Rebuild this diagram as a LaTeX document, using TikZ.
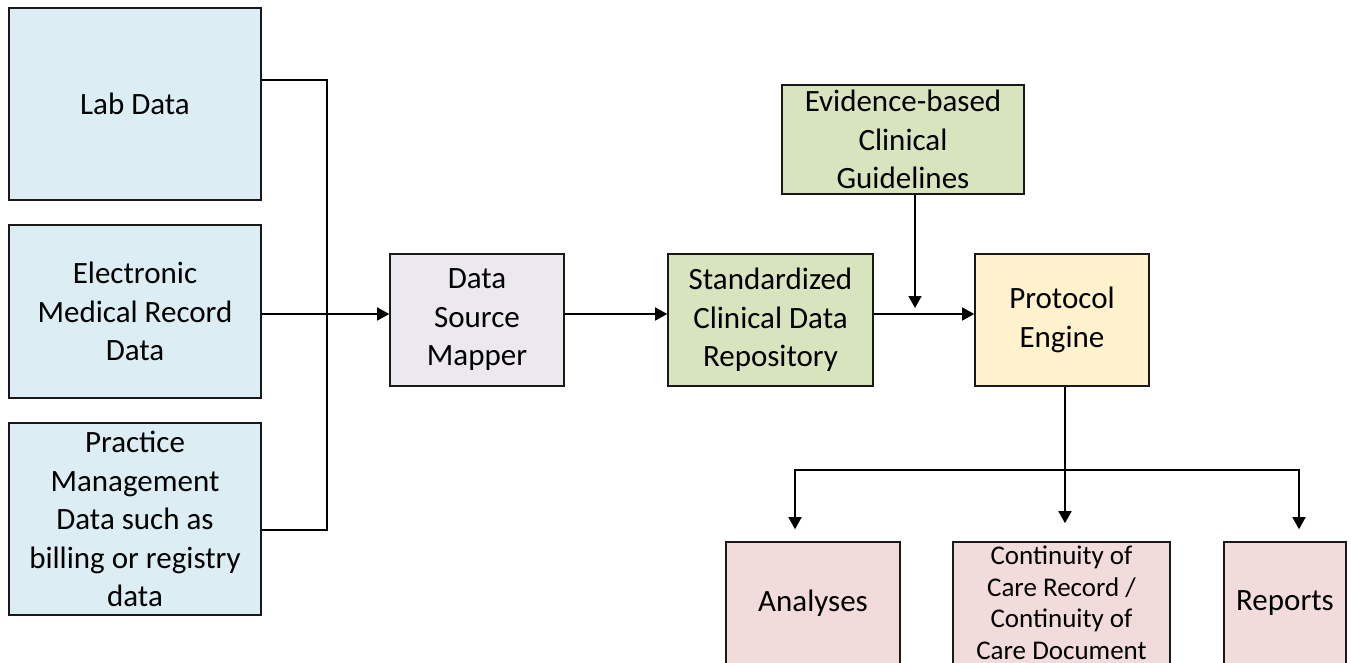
\documentclass[tikz,border=0pt]{standalone}
\usepackage{fontspec}
\setmainfont{Carlito}
\usetikzlibrary{arrows.meta}
\definecolor{srcblue}{HTML}{DCEEF3}
\definecolor{mapgray}{HTML}{EBE8F0}
\definecolor{stdgreen}{HTML}{D7E4BD}
\definecolor{engyellow}{HTML}{FFF2CC}
\definecolor{outpink}{HTML}{F2DCDB}
\begin{document}
\begin{tikzpicture}[x=1pt, y=-1pt, line width=1.6pt,
  box/.style={draw=black!90, inner sep=0pt, align=center, font=\fontsize{31}{38.5}\selectfont},
  arr/.style={-{Triangle[length=12pt,width=13pt]}}]
\useasboundingbox (0,0) rectangle (1351,662);
\node[box, fill=srcblue, minimum width=252pt, minimum height=192pt] (lab) at (135,104) {Lab Data};
\node[box, fill=srcblue, minimum width=252pt, minimum height=173pt] (emr) at (135,311.5) {Electronic\\Medical Record\\Data};
\node[box, fill=srcblue, minimum width=252pt, minimum height=192pt] (pm) at (135,519) {Practice\\Management\\Data such as\\billing or registry\\data};
\node[box, fill=mapgray, minimum width=174pt, minimum height=132pt] (mapper) at (477,320) {Data\\Source\\Mapper};
\node[box, fill=stdgreen, minimum width=205pt, minimum height=132pt] (repo) at (770.5,320) {Standardized\\Clinical Data\\Repository};
\node[box, fill=stdgreen, minimum width=242pt, minimum height=109pt] (guide) at (903,139.5) {Evidence-based\\Clinical\\Guidelines};
\node[box, fill=engyellow, minimum width=174pt, minimum height=132pt] (engine) at (1062,320) {Protocol\\Engine};
\node[box, fill=outpink, minimum width=174pt, minimum height=122pt] (ana) at (813,603) {Analyses};
\node[box, fill=outpink, minimum width=217pt, minimum height=122pt, font=\fontsize{27}{31.5}\selectfont] (ccr) at (1061.5,603) {Continuity of\\Care Record /\\Continuity of\\Care Document};
\node[box, fill=outpink, minimum width=122pt, minimum height=122pt] (rep) at (1285,603) {Reports};
\coordinate (bus) at (327,314);
\coordinate (join) at (915,308);
\coordinate (split) at (1065,470);
\draw ([yshift=24pt]lab.east) -| (bus) |- ([yshift=-11pt]pm.east);
\draw[arr] (emr.east |- bus) -- (mapper.west |- bus);
\draw[arr] (mapper.east |- bus) -- (repo.west |- bus);
\draw[arr] (repo.east |- bus) -- (engine.west |- bus);
\draw[arr] (guide.south -| join) -- (join);
\draw (engine.south -| split) -- (split);
\draw[arr] (split) -- ([yshift=18pt]ccr.north -| split);
\draw[arr] (split) -| ([xshift=-18pt,yshift=12pt]ana.north);
\draw[arr] (split) -| ([xshift=14pt,yshift=12pt]rep.north);
\end{tikzpicture}
\end{document}
